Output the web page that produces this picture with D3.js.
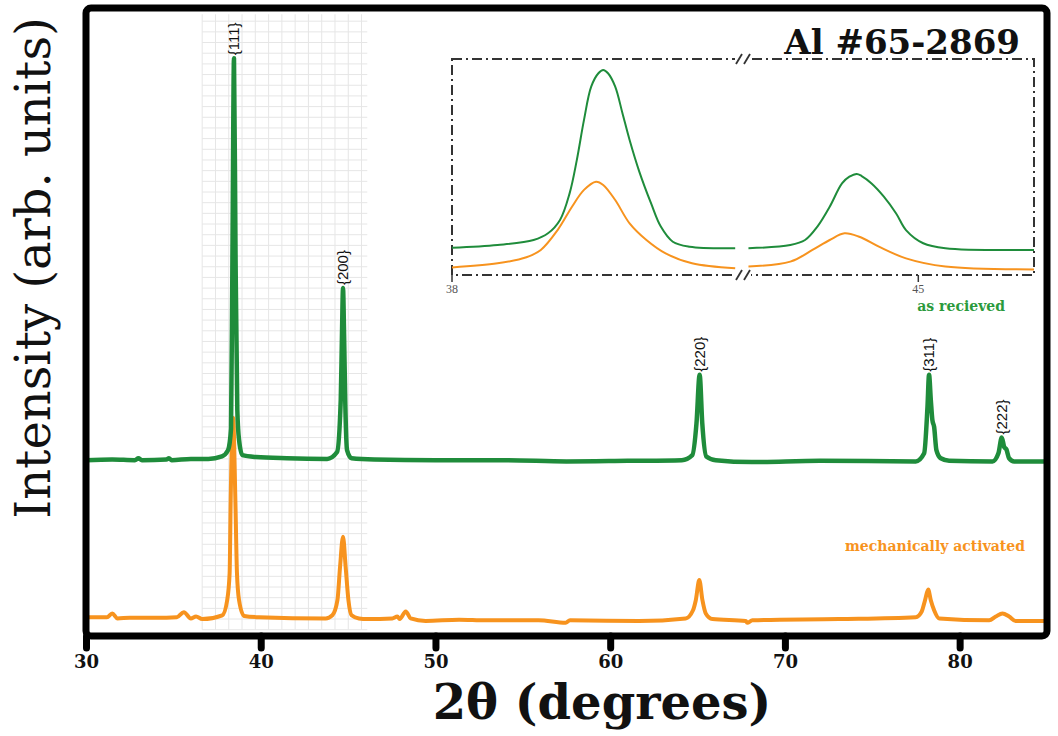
<!DOCTYPE html>
<html>
<head>
<meta charset="utf-8">
<script src="https://cdn.jsdelivr.net/npm/d3@7"></script>
<style>
  body { margin: 0; background: #fff; }
  svg { display: block; }
</style>
</head>
<body>
<svg class="chart"></svg>
<script>
// [2theta (deg), intensity (arb. 0-100)]
const asReceived = [
  [30.0, 28.0], [31.5, 28.1], [32.8, 28.0], [33.0, 28.3], [33.2, 28.0],
  [34.6, 28.1], [34.75, 28.3], [34.9, 28.0], [36.0, 28.2], [37.0, 28.2],
  [37.78, 28.6], [38.13, 29.6], [38.3, 33.0], [38.38, 60.0], [38.47, 92.0],
  [38.56, 60.0], [38.66, 36.0], [38.76, 31.2], [38.95, 28.8], [39.73, 28.5],
  [41.5, 28.3], [43.8, 28.2], [44.37, 29.3], [44.58, 37.6], [44.65, 48.0],
  [44.71, 55.4], [44.77, 48.0], [44.84, 37.0], [44.94, 29.6], [45.2, 28.3],
  [46.5, 28.1], [50.0, 28.0], [54.0, 28.0], [57.5, 27.8], [61.0, 27.9],
  [64.1, 28.0], [64.7, 28.8], [64.94, 33.9], [65.12, 41.6], [65.27, 33.9],
  [65.5, 28.6], [66.04, 28.0], [68.1, 27.7], [72.0, 27.9], [77.49, 27.8],
  [77.97, 29.1], [78.16, 36.5], [78.25, 41.6], [78.35, 37.6], [78.44, 34.4],
  [78.54, 33.3], [78.67, 29.6], [78.92, 28.3], [79.4, 27.9], [81.88, 27.8],
  [82.22, 29.1], [82.41, 31.6], [82.55, 30.1], [82.68, 29.7], [82.83, 28.3],
  [83.12, 27.8], [85.0, 27.8]
];

const activated = [
  [30.0, 3.0], [31.2, 3.0], [31.5, 3.6], [31.8, 2.8], [32.5, 2.9],
  [34.0, 2.9], [35.2, 3.0], [35.6, 3.8], [36.0, 2.8], [36.3, 3.1],
  [36.65, 2.7], [37.8, 3.3], [38.08, 5.7], [38.22, 10.0], [38.28, 21.5],
  [38.42, 34.7], [38.55, 21.5], [38.64, 10.0], [38.76, 5.7], [39.05, 3.2],
  [39.9, 3.0], [43.72, 2.8], [44.1, 3.3], [44.39, 5.7], [44.54, 11.0],
  [44.71, 15.8], [44.86, 11.0], [45.02, 5.7], [45.2, 3.3], [45.62, 2.8],
  [46.1, 2.7], [47.53, 2.8], [47.82, 3.1], [47.95, 2.7], [48.3, 3.9],
  [48.58, 2.8], [49.44, 2.4], [51.35, 2.6], [52.88, 2.5], [55.9, 2.5],
  [57.45, 2.1], [57.7, 2.5], [61.65, 2.4], [64.32, 2.8], [64.74, 4.1],
  [64.9, 5.7], [65.1, 8.9], [65.28, 5.7], [65.47, 3.6], [65.85, 2.7],
  [67.76, 2.4], [67.84, 2.1], [68.14, 2.5], [73.1, 2.7], [77.49, 3.0],
  [77.83, 3.9], [78.02, 5.7], [78.2, 7.4], [78.35, 5.7], [78.54, 4.1],
  [78.83, 2.8], [81.69, 2.5], [82.07, 3.1], [82.45, 3.6], [82.83, 3.1],
  [83.2, 2.4], [85.0, 2.4]
];

// inset (zoom on {111} and {200}, broken axis)
const insetAsReceived = [
  [38.0, 12.6], [38.19, 13.9], [38.34, 16.2], [38.4, 19.3], [38.45, 25.5],
  [38.49, 37.8], [38.52, 53.2], [38.55, 71.8], [38.58, 87.2], [38.61, 93.4],
  [38.63, 94.9], [38.65, 93.4], [38.68, 87.2], [38.71, 75.0], [38.74, 62.5],
  [38.78, 48.0], [38.83, 33.0], [38.87, 22.4], [38.92, 15.4], [38.99, 13.1],
  [39.18, 12.4],
  [44.31, 12.4], [44.48, 13.9], [44.54, 16.2], [44.59, 22.4], [44.64, 31.6],
  [44.69, 42.4], [44.72, 45.5], [44.75, 46.8], [44.77, 45.8], [44.81, 42.4],
  [44.86, 36.3], [44.91, 28.5], [44.95, 20.8], [45.02, 14.7], [45.11, 12.4],
  [45.47, 11.6]
];

const insetActivated = [
  [38.0, 3.5], [38.19, 5.4], [38.31, 8.2], [38.37, 11.6], [38.44, 20.8],
  [38.5, 31.6], [38.55, 39.4], [38.6, 43.2], [38.63, 41.7], [38.68, 34.7],
  [38.74, 23.9], [38.81, 16.2], [38.89, 10.0], [39.0, 5.4], [39.18, 3.1],
  [44.31, 3.9], [44.48, 6.2], [44.57, 11.6], [44.64, 16.2], [44.7, 19.3],
  [44.76, 17.7], [44.84, 13.1], [44.95, 7.7], [45.11, 3.9], [45.47, 2.6]
];

const peakLabels = ['{111}', '{200}', '{220}', '{311}', '{222}'];
const peakTheta = [38.47, 44.71, 65.12, 78.25, 82.41];
const peakTop = [92.0, 55.4, 41.6, 41.6, 31.6];

const xTicks = [30, 40, 50, 60, 70, 80];
const insetTicks = [38, 45];

const green = '#1f8c3b';
const orange = '#f7931e';

const W = 1058, H = 736;
const margin = {top: 8, right: 11, bottom: 100, left: 86};
const width = W - margin.left - margin.right;
const height = H - margin.top - margin.bottom;

const svg = d3.select('.chart').attr('width', W).attr('height', H);

const x = d3.scaleLinear().domain([30, 85]).range([margin.left, margin.left + width]);
const y = d3.scaleLinear().domain([0, 100]).range([margin.top + height, margin.top]);

// light grid patch behind the {111}/{200} peaks
const grid = svg.append('g').attr('stroke', '#e6e6e6').attr('stroke-width', 1);
const gx0 = 36.65, gx1 = 46.1, gy0 = 1, gy1 = 99;
d3.range(gx0, gx1 + 0.01, 0.76).forEach(v => {
  grid.append('line').attr('x1', x(v)).attr('x2', x(v)).attr('y1', y(gy0)).attr('y2', y(gy1));
});
d3.range(gy0, gy1, 1.7).forEach(v => {
  grid.append('line').attr('x1', x(gx0)).attr('x2', x(gx1)).attr('y1', y(v)).attr('y2', y(v));
});

const line = d3.line()
  .x(d => x(d[0]))
  .y(d => y(d[1]))
  .curve(d3.curveMonotoneX);

svg.append('path')
  .attr('d', line(activated))
  .attr('fill', 'none')
  .attr('stroke', orange)
  .attr('stroke-width', 4)
  .attr('stroke-linejoin', 'round');

svg.append('path')
  .attr('d', line(asReceived))
  .attr('fill', 'none')
  .attr('stroke', green)
  .attr('stroke-width', 4.5)
  .attr('stroke-linejoin', 'round');

// peak labels
peakLabels.forEach((lab, i) => {
  const px = x(peakTheta[i]), py = y(peakTop[i]) - 3;
  svg.append('text')
    .attr('transform', 'translate(' + px + ',' + py + ') rotate(-90)')
    .attr('dy', '0.35em')
    .attr('font-family', 'Liberation Sans, Arial, sans-serif')
    .attr('font-size', 15)
    .attr('fill', '#111')
    .text(lab);
});

// frame
svg.append('rect')
  .attr('x', margin.left).attr('y', margin.top)
  .attr('width', width).attr('height', height)
  .attr('rx', 5)
  .attr('fill', 'none')
  .attr('stroke', '#000')
  .attr('stroke-width', 7);

const xAxis = d3.axisBottom(x).tickValues(xTicks).tickSize(12).tickPadding(7);
const gx = svg.append('g')
  .attr('transform', 'translate(0,' + (margin.top + height) + ')')
  .call(xAxis);
gx.select('.domain').remove();
gx.selectAll('.tick line')
  .attr('stroke', '#000')
  .attr('stroke-width', 7)
  .attr('stroke-linecap', 'round');
gx.selectAll('.tick text')
  .attr('fill', '#111')
  .attr('font-family', 'DejaVu Serif, serif')
  .attr('font-weight', 'bold')
  .attr('font-size', 18);

svg.append('text')
  .attr('x', 602).attr('y', 719)
  .attr('text-anchor', 'middle')
  .attr('font-family', 'DejaVu Serif, serif')
  .attr('font-weight', 'bold')
  .attr('font-size', 48)
  .attr('fill', '#111')
  .text('2θ (degrees)');

svg.append('text')
  .attr('transform', 'translate(50,268) rotate(-90)')
  .attr('text-anchor', 'middle')
  .attr('font-family', 'DejaVu Serif, serif')
  .attr('font-size', 48)
  .attr('fill', '#111')
  .text('Intensity (arb. units)');

svg.append('text')
  .attr('x', 1020).attr('y', 54)
  .attr('text-anchor', 'end')
  .attr('font-family', 'DejaVu Serif, serif')
  .attr('font-weight', 'bold')
  .attr('font-size', 34)
  .attr('fill', '#111')
  .text('Al #65-2869');

svg.append('text')
  .attr('x', 1005).attr('y', 311)
  .attr('text-anchor', 'end')
  .attr('font-family', 'DejaVu Serif, serif')
  .attr('font-weight', 'bold')
  .attr('font-size', 14)
  .attr('fill', '#2a9a3c')
  .text('as recieved');

svg.append('text')
  .attr('x', 1025).attr('y', 551)
  .attr('text-anchor', 'end')
  .attr('font-family', 'DejaVu Serif, serif')
  .attr('font-weight', 'bold')
  .attr('font-size', 14)
  .attr('fill', orange)
  .text('mechanically activated');

// ---- inset ----
const ix = d3.scaleLinear().domain([38, 39.2, 44.3, 45.47]).range([452, 740, 746, 1034]);
const iy = d3.scaleLinear().domain([0, 100]).range([275, 59]);
const inset = svg.append('g');

inset.append('rect')
  .attr('x', ix(38)).attr('y', iy(100))
  .attr('width', ix(45.47) - ix(38)).attr('height', iy(0) - iy(100))
  .attr('fill', 'none')
  .attr('stroke', '#333')
  .attr('stroke-width', 2)
  .attr('stroke-dasharray', '10,4,2,4');

const iline = d3.line()
  .x(d => ix(d[0]))
  .y(d => iy(d[1]))
  .curve(d3.curveCatmullRom.alpha(0.5));

[[insetActivated, orange], [insetAsReceived, green]].forEach(([data, col]) => {
  [data.filter(d => d[0] < 41), data.filter(d => d[0] > 41)].forEach(seg => {
    inset.append('path')
      .attr('d', iline(seg))
      .attr('fill', 'none')
      .attr('stroke', col)
      .attr('stroke-width', 2);
  });
});

// axis break marks
const bx = (ix(39.2) + ix(44.3)) / 2;
[iy(100), iy(0)].forEach(by => {
  inset.append('rect')
    .attr('x', bx - 8).attr('y', by - 3)
    .attr('width', 16).attr('height', 6)
    .attr('fill', '#fff');
  [-4, 4].forEach(off => {
    inset.append('line')
      .attr('x1', bx + off - 3).attr('y1', by + 5)
      .attr('x2', bx + off + 3).attr('y2', by - 5)
      .attr('stroke', '#333')
      .attr('stroke-width', 1.8);
  });
});

insetTicks.forEach(t => {
  inset.append('line')
    .attr('x1', ix(t)).attr('x2', ix(t))
    .attr('y1', iy(0)).attr('y2', iy(0) + 7)
    .attr('stroke', '#333')
    .attr('stroke-width', 1.5);
  inset.append('text')
    .attr('x', ix(t)).attr('y', iy(0) + 18)
    .attr('text-anchor', 'middle')
    .attr('font-family', 'Liberation Serif, serif')
    .attr('font-size', 12)
    .attr('fill', '#555')
    .text(t);
});
</script>
</body>
</html>
